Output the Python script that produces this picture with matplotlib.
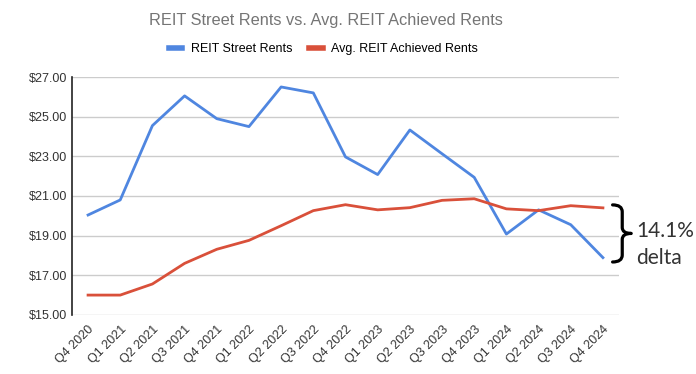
import matplotlib.pyplot as plt
from matplotlib.path import Path
from matplotlib.patches import PathPatch

plt.rcParams['font.family'] = ['Liberation Sans', 'DejaVu Sans']

quarters = ['Q4 2020', 'Q1 2021', 'Q2 2021', 'Q3 2021', 'Q4 2021', 'Q1 2022',
            'Q2 2022', 'Q3 2022', 'Q4 2022', 'Q1 2023', 'Q2 2023', 'Q3 2023',
            'Q4 2023', 'Q1 2024', 'Q2 2024', 'Q3 2024', 'Q4 2024']
street = [20.04, 20.80, 24.55, 26.05, 24.90, 24.50, 26.50, 26.20, 22.97,
          22.08, 24.33, 23.13, 21.94, 19.08, 20.30, 19.55, 17.89]
achieved = [16.00, 16.00, 16.56, 17.60, 18.31, 18.76, 19.50, 20.26, 20.56,
            20.30, 20.41, 20.78, 20.86, 20.35, 20.26, 20.51, 20.40]
yticks = [15, 17, 19, 21, 23, 25, 27]

fig = plt.figure(figsize=(6.96, 3.74), dpi=100)
ax = fig.add_axes([0.1034, 0.158, 0.786, 0.636])

x = range(len(quarters))
ax.plot(x, street, color='#4f86e0', lw=2, label='REIT Street Rents')
ax.plot(x, achieved, color='#d9503a', lw=2, label='Avg. REIT Achieved Rents')

ax.set_xlim(-0.5, len(quarters) - 0.5)
ax.set_ylim(15, 27)
ax.set_yticks(yticks)
ax.set_yticklabels(['$%.2f' % v for v in yticks])
ax.set_xticks(list(x))
ax.set_xticklabels(quarters, rotation=45, ha='right', rotation_mode='anchor')
ax.tick_params(axis='both', length=0, labelsize=9, colors='#333333')
ax.tick_params(axis='x', pad=6)
ax.grid(axis='y', color='#cccccc', lw=1)
ax.set_axisbelow(True)
for s in ['top', 'right', 'bottom']:
    ax.spines[s].set_visible(False)
ax.spines['left'].set_color('#222222')
ax.spines['left'].set_linewidth(1.2)

# brace between the two last points
ytop = achieved[-1] + 0.15
ybot = street[-1] - 0.22
ymid = (ytop + ybot) / 2
x0, xm, x1 = 16.3, 16.6, 16.88
verts = [(x0, ytop), (xm, ytop), (xm, ytop - 0.35),
         (xm, ymid + 0.3),
         (xm, ymid), (x1, ymid),
         (xm, ymid), (xm, ymid - 0.3),
         (xm, ybot + 0.35),
         (xm, ybot), (x0, ybot)]
codes = [Path.MOVETO, Path.CURVE3, Path.CURVE3, Path.LINETO,
         Path.CURVE3, Path.CURVE3, Path.CURVE3, Path.CURVE3,
         Path.LINETO, Path.CURVE3, Path.CURVE3]
ax.add_patch(PathPatch(Path(verts, codes), fc='none', ec='black', lw=2.3,
                       clip_on=False, capstyle='round', joinstyle='round'))
ax.text(17.03, ymid - 0.19, '14.1%', fontsize=15, color='#333333',
        family=['Lato', 'DejaVu Sans'], va='baseline', ha='left', clip_on=False)
ax.text(17.03, ymid - 1.54, 'delta', fontsize=15, color='#333333',
        family=['Lato', 'DejaVu Sans'], va='baseline', ha='left', clip_on=False)

fig.text(0.468, 0.946, 'REIT Street Rents vs. Avg. REIT Achieved Rents',
         ha='center', va='center', fontsize=11.8, color='#757575')
leg = fig.legend(loc='center', bbox_to_anchor=(0.465, 0.868), ncol=2,
                 frameon=False, fontsize=9, handlelength=1.05,
                 columnspacing=1.36, handletextpad=0.68)
for line in leg.get_lines():
    line.set_linewidth(4)

fig.savefig('out.png', dpi=100)
